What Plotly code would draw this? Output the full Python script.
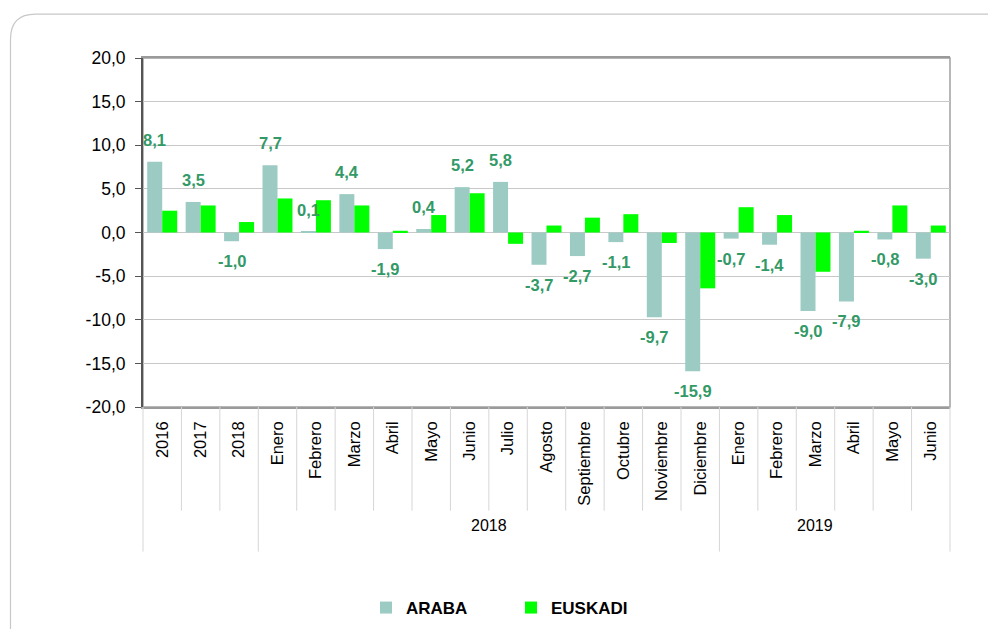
import plotly.graph_objects as go

# category labels (bottom row) and groups (second row)
labels = ["2016", "2017", "2018", "Enero", "Febrero", "Marzo", "Abril", "Mayo",
          "Junio", "Julio", "Agosto", "Septiembre", "Octubre", "Noviembre",
          "Diciembre", "Enero", "Febrero", "Marzo", "Abril", "Mayo", "Junio"]
groups = [("", 0, 3), ("2018", 3, 15), ("2019", 15, 21)]

araba = [8.1, 3.5, -1.0, 7.7, 0.1, 4.4, -1.9, 0.4, 5.2, 5.8, -3.7, -2.7, -1.1,
         -9.7, -15.9, -0.7, -1.4, -9.0, -7.9, -0.8, -3.0]
euskadi = [2.5, 3.1, 1.2, 3.9, 3.7, 3.1, 0.2, 2.0, 4.5, -1.3, 0.8, 1.7, 2.1,
           -1.2, -6.4, 2.9, 2.0, -4.5, 0.2, 3.1, 0.8]

y_ticks = [-20, -15, -10, -5, 0, 5, 10, 15, 20]

# the page body adds an 8px offset, so work in screen pixels minus OFF
OFF = 8
W, H = 996, 629
L, R, T, B = 143 - OFF, 996 - 950 + OFF, 58 - OFF, 629 - 408 + OFF
PW, PH = W - L - R, H - T - B


def px(x):
    return (x - OFF - L) / PW


def py(y):
    return (H - B - (y - OFF)) / PH


def fmt(v):
    return f"{v:.1f}".replace(".", ",")


x = list(range(len(labels)))
n = len(labels)
bargap = 0.22

fig = go.Figure()
fig.add_trace(go.Bar(
    x=x, y=araba, name="ARABA",
    marker=dict(color="#9ccbc3", line=dict(width=0)),
))
fig.add_trace(go.Bar(
    x=x, y=euskadi, name="EUSKADI",
    marker=dict(color="#00ff00", line=dict(width=0)),
))

# value labels on the ARABA bars
annotations = []
slot = (1 - bargap) / 2
for xi, v in zip(x, araba):
    annotations.append(dict(
        x=xi - slot / 2, y=v, xref="x", yref="y", text=fmt(v), showarrow=False,
        yanchor="middle", yshift=22 if v >= 0 else -20,
        font=dict(family="Liberation Sans", size=16.5, color="#339966", weight="bold"),
    ))

shapes = []
# outer rounded border
x0, y0, x1, y1 = px(10.5), py(14), px(1020), py(650)
r, ry = 25 / PW, 25 / PH
shapes.append(dict(
    type="path", xref="paper", yref="paper",
    path=f"M {x0},{y1} L {x0},{y0 - ry} Q {x0},{y0} {x0 + r},{y0} L {x1},{y0}",
    line=dict(color="#c8c8c8", width=1.2),
))
# category dividers under the axis
for i in range(n + 1):
    outer = any(i == g[1] or i == g[2] for g in groups)
    bottom = 553 if outer else 512
    shapes.append(dict(
        type="line", xref="paper", yref="paper",
        x0=i / n, x1=i / n, y0=0, y1=py(bottom),
        line=dict(color="#d6d6d6", width=1),
    ))
# plot box
shapes.append(dict(type="rect", xref="paper", yref="paper", x0=0, x1=1, y0=0, y1=1,
                   line=dict(color="#a0a0a0", width=1.5), layer="below"))

for name, a, b in groups:
    if name:
        annotations.append(dict(
            text=name, xref="paper", yref="paper",
            x=(a + b) / 2 / n, y=py(537), showarrow=False,
            font=dict(family="Liberation Sans Narrow, Liberation Sans", size=16,
                      color="#000000"),
        ))

fig.update_layout(
    width=W, height=H,
    margin=dict(l=L, r=R, t=T, b=B),
    paper_bgcolor="white", plot_bgcolor="white",
    barmode="group", bargap=bargap, bargroupgap=0,
    showlegend=True,
    legend=dict(
        orientation="h", x=px(366), y=py(608), xanchor="left", yanchor="middle",
        font=dict(family="Liberation Sans Narrow, Liberation Sans", size=17,
                  color="#000000", weight="bold"),
        itemwidth=30, entrywidth=100, entrywidthmode="pixels",
    ),
    shapes=shapes,
    annotations=annotations,
    font=dict(family="Liberation Sans", size=15, color="#000000"),
)
fig.update_xaxes(
    range=[-0.5, n - 0.5],
    tickvals=x, ticktext=labels, tickangle=-90,
    tickfont=dict(family="Liberation Sans", size=16.5, color="#000000"),
    ticks="", ticklabelstandoff=6, showgrid=False, zeroline=False,
    showline=True, linecolor="#9a9a9a", linewidth=1.5, mirror=True,
)
fig.update_yaxes(
    range=[-20, 20], tickvals=y_ticks, ticktext=[fmt(v) for v in y_ticks],
    tickfont=dict(family="Liberation Sans", size=17.5, color="#000000"),
    ticks="outside", ticklen=6, tickcolor="#555555", ticklabelstandoff=6,
    showgrid=True, gridcolor="#c8c8c8", gridwidth=1,
    zeroline=True, zerolinecolor="#c8c8c8", zerolinewidth=1,
    showline=True, linecolor="#555555", linewidth=2,
)

fig.write_html("out.html")
